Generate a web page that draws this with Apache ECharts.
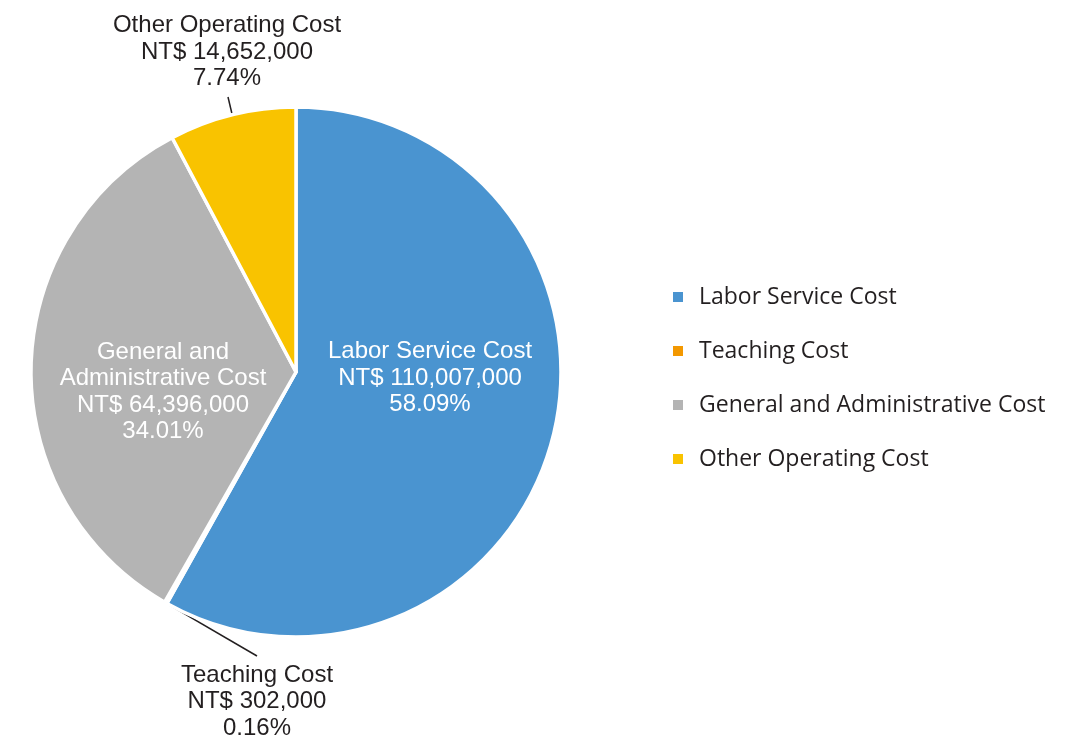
<!DOCTYPE html>
<html>
<head>
<meta charset="utf-8">
<script src="https://cdn.jsdelivr.net/npm/echarts@6/dist/echarts.min.js"></script>
<style>
html,body{margin:0;padding:0;background:#fff;}
#chart{width:1072px;height:740px;}
</style>
</head>
<body>
<div id="chart"></div>
<script>
const categories = ['Labor Service Cost', 'Teaching Cost', 'General and Administrative Cost', 'Other Operating Cost'];
const amounts = [110007000, 302000, 64396000, 14652000];
const percentLabels = ['58.09%', '0.16%', '34.01%', '7.74%'];
const colors = ['#4a94d0', '#f39800', '#b4b4b4', '#f9c300'];

const TEXT = '#231f20';
const LABEL_FONT = 'Liberation Sans';

// label placement (text anchors) — layout only
const labelPlace = {
  0: { x: 430, y: 378, align: 'center', verticalAlign: 'middle' },
  1: { x: 257, y: 662, align: 'center', verticalAlign: 'top', lineEnd: [257, 656] },
  2: { x: 163, y: 392, align: 'center', verticalAlign: 'middle' },
  3: { x: 227, y: 92, align: 'center', verticalAlign: 'bottom', lineEnd: [228, 97] }
};

const data = categories.map((name, i) => {
  const inside = (i === 0 || i === 2);
  return {
    name: name,
    value: amounts[i],
    itemStyle: { color: colors[i] },
    label: {
      position: inside ? 'inside' : 'outside',
      color: inside ? '#ffffff' : TEXT
    },
    labelLine: { show: !inside }
  };
});

const chart = echarts.init(document.getElementById('chart'), null, { renderer: 'canvas' });
chart.setOption({
  animation: false,
  backgroundColor: '#ffffff',
  color: colors,
  legend: {
    orient: 'vertical',
    left: 666,
    top: 279,
    icon: 'rect',
    itemWidth: 12,
    itemHeight: 12,
    itemGap: 28,
    selectedMode: false,
    data: categories,
    textStyle: {
      fontFamily: 'Open Sans',
      fontSize: 23,
      color: TEXT,
      lineHeight: 26,
      padding: [0, 0, 0, 10]
    }
  },
  series: [{
    type: 'pie',
    center: [296, 372],
    radius: 265,
    startAngle: 90,
    clockwise: true,
    avoidLabelOverlap: false,
    emphasis: { disabled: true },
    itemStyle: { borderColor: '#ffffff', borderWidth: 3.5 },
    label: {
      show: true,
      fontFamily: LABEL_FONT,
      fontSize: 24,
      lineHeight: 26.5,
      align: 'center',
      formatter: function (p) {
        const nm = p.name.replace('General and ', 'General and\n');
        return nm + '\nNT$ ' + amounts[p.dataIndex].toLocaleString('en-US') + '\n' + percentLabels[p.dataIndex];
      }
    },
    labelLine: {
      show: true,
      length: 16,
      length2: 0,
      lineStyle: { color: TEXT, width: 1.5 }
    },
    labelLayout: function (params) {
      const pl = labelPlace[params.dataIndex];
      const out = { x: pl.x, y: pl.y, align: pl.align, verticalAlign: pl.verticalAlign };
      if (pl.lineEnd && params.labelLinePoints && params.labelLinePoints[0]) {
        out.labelLinePoints = [params.labelLinePoints[0], pl.lineEnd];
      }
      return out;
    },
    data: data
  }]
});
</script>
</body>
</html>
